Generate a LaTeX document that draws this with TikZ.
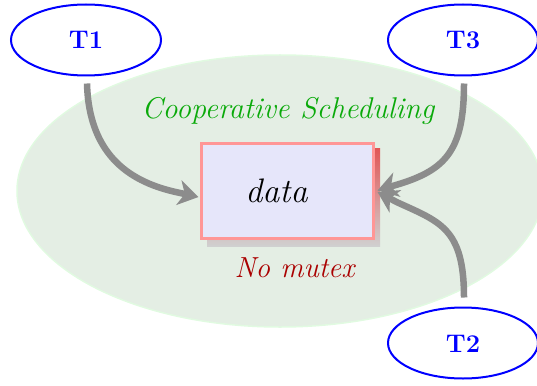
\documentclass[tikz,border=0pt]{standalone}
\usepackage{fontspec}
\usetikzlibrary{arrows.meta,calc,shapes.geometric}
\definecolor{zonefill}{RGB}{228,238,228}
\definecolor{zoneline}{RGB}{225,250,225}
\definecolor{boxfill}{RGB}{230,230,250}
\definecolor{boxline}{RGB}{255,150,150}
\definecolor{shadowtop}{RGB}{225,85,85}
\definecolor{shadowbot}{RGB}{208,208,208}
\definecolor{flowgray}{RGB}{140,140,140}
\definecolor{labgreen}{RGB}{10,170,10}
\definecolor{labred}{RGB}{170,0,0}
\tikzset{
  task/.style={ellipse, draw=blue, line width=2pt, minimum width=150pt,
    minimum height=71pt, inner sep=0pt},
  tasklabel/.style={anchor=base, text=blue, inner sep=0pt,
    font=\fontsize{25.5}{27}\selectfont\bfseries},
  flow/.style={draw=flowgray, line width=6.5pt,
    -{Stealth[length=20pt,width=25pt,inset=6pt]}},
  databox/.style={draw=boxline, fill=boxfill, line width=3pt,
    minimum width=172pt, minimum height=95pt, inner sep=0pt},
  note/.style={anchor=base, inner sep=0pt},
}
\begin{document}
\begin{tikzpicture}[x=1pt,y=-1pt]
  \useasboundingbox (0,0) rectangle (537,385);
  % shared area
  \node[ellipse, fill=zonefill, draw=zoneline, line width=1.5pt,
        minimum width=526pt, minimum height=272pt, inner sep=0pt]
        (zone) at (280,191) {};
  % the shared data with its shadow
  \shade[top color=shadowtop, bottom color=shadowbot]
        (207,148) rectangle (380,246);
  \node[databox] (data) at (287,190.5) {};
  \node[anchor=base, inner sep=0pt,
        font=\fontsize{34}{36}\selectfont\itshape]
        (datatext) at (276.5,202.5) {data};
  % labels
  \node[note, text=labgreen, font=\fontsize{30}{32}\selectfont\itshape]
        (coop) at (288,118) {Cooperative Scheduling};
  \node[note, text=labred, font=\fontsize{29}{31}\selectfont\itshape]
        (nomutex) at (294.5,277) {No mutex};
  % tasks
  \node[task] (T1) at (86,40) {};
  \node[task] (T3) at (463,40) {};
  \node[task] (T2) at (463,343) {};
  \node[tasklabel] (l1) at (86,49) {T1};
  \node[tasklabel] (l3) at (463,49) {T3};
  \node[tasklabel] (l2) at (463,352) {T2};
  % tips on the box border and where the heads start
  \coordinate (inL) at ($(data.west)+(-1,6.5)$);
  \coordinate (inR) at ($(data.east)+(3,0)$);
  \coordinate (inR2) at ($(data.east)+(3,1.5)$);
  \coordinate (h1) at ($(inL)+(-21.5,-4.7)$);
  \coordinate (h3) at ($(inR)+(21.1,-6.3)$);
  \coordinate (h2) at ($(inR2)+(19.5,10.2)$);
  \coordinate (s1) at ($(T1.south)+(1,7)$);
  \coordinate (s3) at ($(T3.south)+(1,7)$);
  \coordinate (s2) at ($(T2.north)+(1,-9)$);
  % accesses
  \draw[flow] (s1) .. controls (89,158) and (133.5,182.8) .. (h1) -- (inL);
  \draw[flow] (s3) .. controls (464,150) and (446,169.6) .. (h3) -- (inR);
  \draw[flow] (s2) .. controls (464,228) and (440,222) .. (h2) -- (inR2);
\end{tikzpicture}
\end{document}
